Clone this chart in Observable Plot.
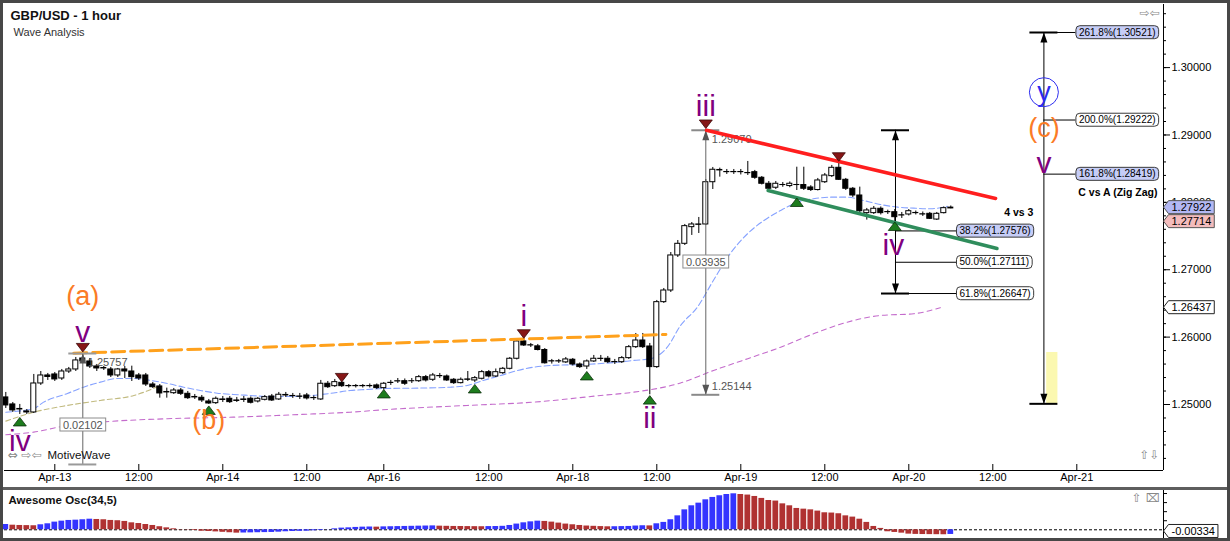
<!DOCTYPE html>
<html><head><meta charset="utf-8">
<script src="https://cdn.jsdelivr.net/npm/d3@7"></script>
<script src="https://cdn.jsdelivr.net/npm/@observablehq/plot@0.6"></script>
<style>
html,body{margin:0;padding:0;width:1230px;height:541px;overflow:hidden;background:#555;}
#wrap{position:relative;width:1230px;height:541px;background:#5e5e5e;}
#main{position:absolute;left:0;top:0;}
#osc{position:absolute;left:0;top:490px;}
.bd{position:absolute;background:#474747;z-index:5;}
svg{display:block;}
</style></head>
<body><div id="wrap"><div id="main"></div><div id="osc"></div>
<div class="bd" style="left:0;top:0;width:1230px;height:3px"></div>
<div class="bd" style="left:0;top:0;width:3px;height:541px"></div>
<div class="bd" style="left:1227px;top:0;width:3px;height:541px"></div>
<div class="bd" style="left:0;top:538px;width:1230px;height:3px"></div>
</div>
<script>
// ---------------- DATA ----------------
const barIndex = d3.range(-7, 129); // hourly bars, 0 = Apr-13 00:00

const openP = [
1.25105,1.25001,1.24926,1.24897,1.24882,1.25312,1.25431,1.25446,1.25386,1.25490,
1.25520,1.25683,1.25639,1.25564,1.25535,1.25520,1.25431,1.25520,1.25490,1.25431,
1.25431,1.25297,1.25268,1.25179,1.25168,1.25208,1.25159,1.25112,1.25100,1.25045,
1.25020,1.25075,1.25085,1.25060,1.25067,1.25085,1.25045,1.25070,1.25119,1.25075,
1.25142,1.25127,1.25119,1.25134,1.25097,1.25075,1.25308,1.25272,1.25322,1.25275,
1.25275,1.25275,1.25275,1.25283,1.25243,1.25319,1.25342,1.25346,1.25345,1.25346,
1.25406,1.25367,1.25423,1.25416,1.25367,1.25317,1.25372,1.25357,1.25382,1.25480,
1.25416,1.25465,1.25530,1.25679,1.25936,1.25879,1.25863,1.25809,1.25642,1.25642,
1.25625,1.25664,1.25594,1.25564,1.25639,1.25676,1.25679,1.25631,1.25628,1.25688,
1.25851,1.25950,1.25861,1.25555,1.26519,1.26692,1.27212,1.27385,1.27632,1.27672,
1.27672,1.28299,1.28481,1.28451,1.28451,1.28451,1.28436,1.28448,1.28365,1.28276,
1.28217,1.28258,1.28242,1.28258,1.28257,1.28221,1.28183,1.28299,1.28389,1.28513,
1.28335,1.28202,1.28102,1.27840,1.27840,1.27905,1.27857,1.27854,1.27808,1.27820,
1.27843,1.27823,1.27830,1.27745,1.27840,1.27910];
const highP = [
1.25179,1.25030,1.25001,1.24926,1.25446,1.25490,1.25461,1.25475,1.25520,1.25550,
1.25698,1.25757,1.25683,1.25594,1.25564,1.25550,1.25535,1.25564,1.25569,1.25461,
1.25461,1.25327,1.25297,1.25243,1.25238,1.25238,1.25194,1.25149,1.25134,1.25075,
1.25112,1.25119,1.25119,1.25105,1.25119,1.25112,1.25105,1.25134,1.25149,1.25179,
1.25179,1.25164,1.25164,1.25164,1.25127,1.25357,1.25342,1.25372,1.25357,1.25297,
1.25297,1.25297,1.25305,1.25305,1.25327,1.25357,1.25386,1.25379,1.25386,1.25431,
1.25431,1.25461,1.25461,1.25438,1.25386,1.25394,1.25490,1.25416,1.25505,1.25505,
1.25527,1.25550,1.25698,1.25950,1.25973,1.25906,1.25891,1.25831,1.25669,1.25669,
1.25698,1.25683,1.25616,1.25661,1.25728,1.25728,1.25713,1.25669,1.25713,1.25876,
1.26054,1.26054,1.25906,1.26544,1.26722,1.27256,1.27434,1.27672,1.27701,1.27776,
1.28339,1.28518,1.28508,1.28488,1.28488,1.28488,1.28607,1.28474,1.28384,1.28310,
1.28310,1.28295,1.28303,1.28522,1.28522,1.28247,1.28355,1.28429,1.28548,1.28587,
1.28355,1.28221,1.28226,1.27910,1.27939,1.27932,1.27884,1.27894,1.27850,1.27894,
1.27872,1.27857,1.27850,1.27850,1.27932,1.27946];
const lowP = [
1.24941,1.24882,1.24852,1.24852,1.24867,1.25283,1.25357,1.25342,1.25357,1.25461,
1.25490,1.25609,1.25535,1.25490,1.25505,1.25401,1.25401,1.25386,1.25342,1.25357,
1.25268,1.25238,1.25094,1.25094,1.25149,1.25134,1.25075,1.25075,1.25030,1.25001,
1.25001,1.25030,1.25015,1.25030,1.25030,1.25008,1.25023,1.25053,1.25045,1.25060,
1.25105,1.25090,1.25075,1.25067,1.25060,1.25060,1.25238,1.25253,1.25253,1.25245,
1.25245,1.25245,1.25245,1.25223,1.25216,1.25283,1.25312,1.25283,1.25312,1.25327,
1.25334,1.25342,1.25386,1.25342,1.25297,1.25305,1.25342,1.25327,1.25364,1.25394,
1.25401,1.25446,1.25513,1.25661,1.25861,1.25846,1.25795,1.25600,1.25600,1.25609,
1.25609,1.25572,1.25535,1.25520,1.25624,1.25639,1.25609,1.25594,1.25609,1.25669,
1.25831,1.25831,1.25144,1.25535,1.26500,1.26662,1.27182,1.27360,1.27509,1.27538,
1.27657,1.28191,1.28374,1.28414,1.28414,1.28407,1.28399,1.28342,1.28258,1.28176,
1.28191,1.28224,1.28217,1.28176,1.28176,1.28161,1.28169,1.28280,1.28369,1.28325,
1.28176,1.28073,1.27850,1.27737,1.27820,1.27813,1.27820,1.27714,1.27761,1.27798,
1.27813,1.27791,1.27746,1.27731,1.27828,1.27905];
const closeP = [
1.24986,1.24912,1.24934,1.24882,1.25312,1.25431,1.25409,1.25372,1.25490,1.25520,
1.25654,1.25639,1.25564,1.25535,1.25542,1.25431,1.25520,1.25490,1.25406,1.25386,
1.25297,1.25257,1.25164,1.25186,1.25208,1.25159,1.25094,1.25105,1.25060,1.25015,
1.25085,1.25067,1.25035,1.25053,1.25075,1.25026,1.25085,1.25109,1.25060,1.25145,
1.25134,1.25124,1.25115,1.25090,1.25094,1.25308,1.25257,1.25332,1.25272,1.25272,
1.25272,1.25272,1.25272,1.25243,1.25308,1.25322,1.25346,1.25308,1.25346,1.25406,
1.25357,1.25431,1.25420,1.25357,1.25317,1.25367,1.25367,1.25391,1.25480,1.25416,
1.25480,1.25530,1.25679,1.25936,1.25876,1.25876,1.25809,1.25612,1.25639,1.25639,
1.25669,1.25594,1.25555,1.25639,1.25679,1.25679,1.25628,1.25628,1.25688,1.25851,
1.25950,1.25851,1.25555,1.26519,1.26692,1.27212,1.27385,1.27647,1.27672,1.27667,
1.28299,1.28484,1.28474,1.28448,1.28448,1.28448,1.28433,1.28365,1.28276,1.28202,
1.28276,1.28257,1.28276,1.28257,1.28202,1.28183,1.28325,1.28399,1.28513,1.28335,
1.28202,1.28102,1.27869,1.27880,1.27905,1.27840,1.27854,1.27780,1.27805,1.27869,
1.27840,1.27820,1.27756,1.27830,1.27914,1.27922];

// Awesome oscillator (in pips)
const aoPips = [
38,33,31,30,29,36,43,55,62,67,
69,72,76,74,72,67,65,60,50,45,
38,31,22,14,7,2,-2,-5,-10,-12,
-15,-18,-21,-24,-23,-22,-21,-20,-19,-17,
-14,-12,-11,-10,-7,-5,-1,7,12,14,
17,19,20,19,21,22,23,24,25,26,
27,28,26,25,24,23.5,23,22.5,22,23,
23.5,25,31,41,50,57,62,60,55,48,
41,36,31,27,25,23,21.5,22,23,24,
27,29,28,43,53,72,100,143,172,191,
215,232,244,253,258,253,249,239,225,210,
206,186,172,153,148,143,134,122,120,115,
100,91,76,53,24,10,-14,-19,-24,-31,
-33,-34,-34.5,-35,-35.5,-33.4];
const aoLastLabel = "-0.00334";

// moving averages (sampled points: bar index, price)
const maFastIdx = [-7,-3,-1.6,1.8,4.1,6.5,9,11.2,13.7,16.1,18.4,20.8,23.2,25.5,28,30.4,32.7,35.1,37.5,39.8,42.2,44.6,47,51.8,56.5,58.9,61.2,63.7,66.1,68.4,70.8,75.5,80.4,82.7,85.1,87.5,89.4,91.8,94.1,96.5,99,101.3,103.7,106.1,108.4,110.8,113.2,115.5,117.9,120.4,122.7,125.1,127.5];
const maFastVal = [1.24886,1.24941,1.25035,1.25164,1.25257,1.25332,1.25387,1.25387,1.25357,1.25312,1.25257,1.25208,1.25168,1.25149,1.25134,1.25119,1.25119,1.25119,1.25142,1.25171,1.25208,1.25223,1.25238,1.25243,1.25257,1.25283,1.25357,1.25431,1.25505,1.25554,1.25579,1.25594,1.25628,1.25654,1.25679,1.25851,1.26173,1.26445,1.26844,1.27241,1.27538,1.27731,1.2788,1.28003,1.28053,1.28077,1.28077,1.28028,1.27969,1.27929,1.27914,1.27905,1.2794];
const maOliveIdx = [-7,-3,1.8,6.5,11.3,15.1];
const maOliveVal = [1.24753,1.24886,1.24986,1.2506,1.25134,1.25283];
const maSlowIdx = [-7,-3,1.8,6.5,16.1,25.5,35.1,42.2,47.5,58.9,68.4,78,82.7,89.4,94.1,99,103.7,108.4,113.2,117.9,122.7,126.5];
const maSlowVal = [1.24551,1.2459,1.24689,1.24738,1.24789,1.24812,1.24852,1.24886,1.24926,1.24986,1.25035,1.25134,1.25183,1.2532,1.25505,1.2568,1.25851,1.2605,1.26222,1.26321,1.26347,1.26437];

// trend lines
const orangeIdx = [2.7, 87.3], orangeVal = [1.25762, 1.26039];
const redIdx = [93.1, 134.4], redVal = [1.2907, 1.28058];
const greenIdx = [101.9, 134.6], greenVal = [1.28176, 1.27316];

// wave labels
const waveText  = ["iv","v","(a)","(b)","i","ii","iii","iv","v","(c)","y"];
const waveIdx   = [-5, 4, 4, 22, 67, 85, 93, 119.8, 141.3, 141.3, 141.3];
const wavePrice = [1.24452,1.26069,1.26603,1.24763,1.26307,1.24793,1.29423,1.27368,1.28577,1.29096,1.29635];
const waveDegree= ["minute","minute","minor","minor","minute","minute","minute","minute","minute","minor","inter"];

// swing markers
const lowMarkIdx = [-5, 22, 47, 60, 76, 85, 106, 120];
const lowMarkP   = [1.24741,1.24912,1.25157,1.25231,1.25424,1.25065,1.27998,1.27642];
const highMarkIdx = [4, 41, 67, 93, 112];
const highMarkP   = [1.25847,1.25402,1.2605,1.29163,1.28677];

// measurement tools
const measA = {i: 4, top: 1.25757, bottom: 1.2411, label: "0.02102", labelP: 1.24696, topText: "1.25757", topTextP: 1.25624};
const measB = {i: 93, top: 1.2907, bottom: 1.25144, label: "0.03935", labelP: 1.27115, topText: "1.29070", topTextP: 1.28933, botText: "1.25144", botTextP: 1.25268};

// fibonacci tools
const fibRetr = {i: 120.1, top: 1.2907, bottom: 1.26647, title: "4 vs 3", titleP: 1.27842};
const fibRetrLevels = [1.27576, 1.27111, 1.26647];
const fibRetrLabels = ["38.2%(1.27576)", "50.0%(1.27111)", "61.8%(1.26647)"];
const fibRetrHl = [true, false, false];
const fibExt = {i: 141.3, top: 1.30521, bottom: 1.2501, title: "C vs A (Zig Zag)", titleP: 1.28147};
const fibExtLevels = [1.30521, 1.29222, 1.28419];
const fibExtLabels = ["261.8%(1.30521)", "200.0%(1.29222)", "161.8%(1.28419)"];
const fibExtHl = [true, false, true];
const targetBox = {i1: 141.7, i2: 143.3, p1: 1.25015, p2: 1.25772};

// axes
const xTickIdx = [0,12,24,36,47,62,74,86,98,110,122,134,146];
const xTickLabels = ["Apr-13","12:00","Apr-14","12:00","Apr-16","12:00","Apr-18","12:00","Apr-19","12:00","Apr-20","12:00","Apr-21"];
const yTicks = [1.25,1.26,1.27,1.28,1.29,1.30];
const yMinor = d3.range(1.242, 1.3091, 0.002);
const priceTags = [{t:"1.27922", p:1.27922, cls:"tag-blue"}, {t:"1.27714", p:1.27714, cls:"tag-red"}, {t:"1.26437", p:1.26437, cls:"tag-white"}];
const aoTicks = [0.0065, 0.013, 0.0195, 0.026];

// ---------------- BUILD ----------------
const FONT = "'Liberation Sans', Arial, Helvetica, sans-serif";
const xDomain = [-7.186, 158.386];
const yDomain = [1.240205, 1.309365];
const ppx = (yDomain[1] - yDomain[0]) / 466; // price per pixel
const bpx = 1 / 7;                           // bars per pixel

const candles = barIndex.map((i, k) => ({i, o: openP[k], h: highP[k], l: lowP[k], c: closeP[k]}));
const zip = (a, b) => a.map((x, k) => ({i: x, p: b[k]}));
const waves = waveText.map((t, k) => ({t, i: waveIdx[k], p: wavePrice[k], d: waveDegree[k]}));
const waveColor = {minute: "#800080", minor: "#fb7b26", inter: "#2b2bf0"};
const waveSize = {minute: 30, minor: 27, inter: 27};

const triUp = {draw(c){c.moveTo(0,-4.5);c.lineTo(6.5,4);c.lineTo(-6.5,4);c.closePath();}};
const triDown = {draw(c){c.moveTo(0,4.5);c.lineTo(6.5,-4);c.lineTo(-6.5,-4);c.closePath();}};
const arrUp = {draw(c){c.moveTo(0,0);c.lineTo(3.5,10);c.lineTo(-3.5,10);c.closePath();}};
const arrDown = {draw(c){c.moveTo(0,0);c.lineTo(3.5,-10);c.lineTo(-3.5,-10);c.closePath();}};

const capHalf = 10 * bpx * 1.4;
const caps = [
  {p: measA.top, i: measA.i, c: "#9a9a9a"}, {p: measA.bottom, i: measA.i, c: "#9a9a9a"},
  {p: measB.top, i: measB.i, c: "#8a8a8a"}, {p: measB.bottom, i: measB.i, c: "#8a8a8a"},
  {p: fibRetr.top, i: fibRetr.i, c: "#000"}, {p: fibRetr.bottom, i: fibRetr.i, c: "#000"},
  {p: fibExt.top, i: fibExt.i, c: "#000"}, {p: fibExt.bottom, i: fibExt.i, c: "#000"}
];
const arrowsUp = [{i: measA.i, p: measA.top, c: "#555"}, {i: measB.i, p: measB.top, c: "#555"}, {i: fibRetr.i, p: fibRetr.top, c: "#000"}, {i: fibExt.i, p: fibExt.top, c: "#000"}];
const arrowsDown = [{i: measB.i, p: measB.bottom, c: "#555"}, {i: fibRetr.i, p: fibRetr.bottom, c: "#000"}, {i: fibExt.i, p: fibExt.bottom, c: "#000"}];

const retrRows = fibRetrLevels.map((p, k) => ({p, t: fibRetrLabels[k], hl: fibRetrHl[k]}));
const extRows = fibExtLevels.map((p, k) => ({p, t: fibExtLabels[k], hl: fibExtHl[k]}));
const retrLabelX = fibRetr.i + 61.5 * bpx * 1.0 + 0;  // box starts right of the tool
const retrTextX = fibRetr.i + 64 * bpx;
const extTextX = fibExt.i + 35 * bpx;
const tagX = xDomain[1] + 8 * bpx;

const main = Plot.plot({
  width: 1230, height: 487,
  marginLeft: 4, marginRight: 67, marginTop: 4, marginBottom: 17,
  style: {background: "#fff", fontFamily: FONT, fontSize: "11px", color: "#000"},
  x: {type: "linear", domain: xDomain},
  y: {type: "linear", domain: yDomain},
  marks: [
    // moving averages
    Plot.line(zip(maSlowIdx, maSlowVal), {x: "i", y: "p", stroke: "#c46ccc", strokeWidth: 1.1, strokeDasharray: "5,4", curve: "monotone-x"}),
    Plot.line(zip(maOliveIdx, maOliveVal), {x: "i", y: "p", stroke: "#c2bb80", strokeWidth: 1.1, strokeDasharray: "5,3", curve: "monotone-x"}),
    Plot.line(zip(maFastIdx, maFastVal), {x: "i", y: "p", stroke: "#86a2ff", strokeWidth: 1.1, strokeDasharray: "6,3", curve: "monotone-x"}),
    // target zone
    Plot.rect([targetBox], {x1: "i1", x2: "i2", y1: "p1", y2: "p2", fill: "#fbf8b0"}),
    // candles
    Plot.ruleX(candles, {x: "i", y1: "l", y2: "h", stroke: "#000", strokeWidth: 1}),
    Plot.rect(candles, {x1: d => d.i - 0.36, x2: d => d.i + 0.36, y1: "o", y2: "c", fill: d => d.c >= d.o ? "#fff" : "#000", stroke: "#000", strokeWidth: 1}),
    // orange dashed trend line
    Plot.line(zip(orangeIdx, orangeVal), {x: "i", y: "p", stroke: "#ffa11c", strokeWidth: 3, strokeDasharray: "13,6"}),
    // measurement tools
    Plot.ruleX([measA, measB], {x: "i", y1: "bottom", y2: "top", stroke: "#666", strokeWidth: 1}),
    // fib tool verticals
    Plot.ruleX([fibRetr, fibExt], {x: "i", y1: "bottom", y2: "top", stroke: "#000", strokeWidth: 1}),
    Plot.ruleY(retrRows, {y: "p", x1: fibRetr.i, x2: retrLabelX, stroke: "#000", strokeWidth: 1}),
    Plot.ruleY(extRows, {y: "p", x1: fibExt.i, x2: extTextX - 3 * bpx, stroke: "#000", strokeWidth: 1}),
    Plot.ruleY(caps, {y: "p", x1: d => d.i - capHalf, x2: d => d.i + capHalf, stroke: "c", strokeWidth: 2}),
    Plot.dot(arrowsUp, {x: "i", y: "p", symbol: arrUp, fill: "c", stroke: "none", r: 4}),
    Plot.dot(arrowsDown, {x: "i", y: "p", symbol: arrDown, fill: "c", stroke: "none", r: 4}),
    // measurement texts
    Plot.text([measA], {x: d => d.i + 5 * bpx, y: "topTextP", text: "topText", fill: "#555", fontSize: 11, textAnchor: "start"}),
    Plot.text([measB], {x: d => d.i + 6 * bpx, y: "topTextP", text: "topText", fill: "#555", fontSize: 11, textAnchor: "start"}),
    Plot.text([measB], {x: d => d.i + 6 * bpx, y: "botTextP", text: "botText", fill: "#555", fontSize: 11, textAnchor: "start"}),
    Plot.text([measA, measB], {x: "i", y: "labelP", text: "label", fill: "#555", fontSize: 11, className: "box-measure"}),
    // trend lines
    Plot.line(zip(redIdx, redVal), {x: "i", y: "p", stroke: "#ff1e1e", strokeWidth: 3.5}),
    Plot.line(zip(greenIdx, greenVal), {x: "i", y: "p", stroke: "#2f8d5c", strokeWidth: 3.5}),
    // swing markers
    Plot.dot(zip(lowMarkIdx, lowMarkP), {x: "i", y: "p", symbol: triUp, fill: "#1d7c1d", stroke: "#0b300b", strokeWidth: 0.8, r: 4}),
    Plot.dot(zip(highMarkIdx, highMarkP), {x: "i", y: "p", symbol: triDown, fill: "#861616", stroke: "#3a0808", strokeWidth: 0.8, r: 4}),
    // wave labels
    Plot.dot(waves.filter(d => d.d === "inter"), {x: "i", y: "p", r: 14.5, stroke: "#3030f0", fill: "none", strokeWidth: 1}),
    Plot.text(waves, {x: "i", y: "p", text: "t", fill: d => waveColor[d.d], fontSize: d => waveSize[d.d], lineAnchor: "middle"}),
    // fib labels
    Plot.text(retrRows.filter(d => d.hl), {x: retrTextX, y: "p", text: "t", fontSize: 10, textAnchor: "start", className: "box-fib-hl"}),
    Plot.text(retrRows.filter(d => !d.hl), {x: retrTextX, y: "p", text: "t", fontSize: 10, textAnchor: "start", className: "box-fib"}),
    Plot.text(extRows.filter(d => d.hl), {x: extTextX, y: "p", text: "t", fontSize: 10, textAnchor: "start", className: "box-fib-hl"}),
    Plot.text(extRows.filter(d => !d.hl), {x: extTextX, y: "p", text: "t", fontSize: 10, textAnchor: "start", className: "box-fib"}),
    Plot.text([fibRetr], {x: d => d.i + 19.7, y: "titleP", text: "title", fontSize: 10.5, fontWeight: "bold", textAnchor: "end"}),
    Plot.text([fibExt], {x: xDomain[1] - 6 * bpx, y: "titleP", text: "title", fontSize: 10.5, fontWeight: "bold", textAnchor: "end"}),
    // axes
    Plot.ruleY([yDomain[0]], {stroke: "#000", strokeWidth: 1}),
    Plot.ruleX([xDomain[1]], {stroke: "#000", strokeWidth: 1}),
    Plot.ruleX(xTickIdx, {x: d => d, y1: yDomain[0], y2: yDomain[0] + 6 * ppx, stroke: "#000"}),
    Plot.axisX({ticks: xTickIdx, tickFormat: d => xTickLabels[xTickIdx.indexOf(d)], tickSize: 0, tickPadding: 3, fontSize: 11, label: null, anchor: "bottom"}),
    Plot.ruleY(yMinor, {y: d => d, x1: xDomain[1], x2: xDomain[1] + 3 * bpx, stroke: "#000"}),
    Plot.axisY({ticks: yTicks, tickFormat: d => d.toFixed(5), tickSize: 6, tickPadding: 2, fontSize: 11, label: null, anchor: "right"}),
    Plot.text(priceTags.filter(d => d.cls === "tag-blue"), {x: tagX, y: "p", text: "t", fontSize: 11, textAnchor: "start", className: "tag-blue"}),
    Plot.text(priceTags.filter(d => d.cls === "tag-red"), {x: tagX, y: "p", text: "t", fontSize: 11, textAnchor: "start", className: "tag-red"}),
    Plot.text(priceTags.filter(d => d.cls === "tag-white"), {x: tagX, y: "p", text: "t", fontSize: 11, textAnchor: "start", className: "tag-white"}),
    // titles & chrome
    Plot.text(["GBP/USD - 1 hour"], {text: d => d, frameAnchor: "top-left", dx: 6, dy: 6, lineAnchor: "top", fontSize: 13, fontWeight: "bold", fill: "#111"}),
    Plot.text(["Wave Analysis"], {text: d => d, frameAnchor: "top-left", dx: 9, dy: 24, lineAnchor: "top", fontSize: 11, fill: "#333"}),
    Plot.text(["⇨⇦"], {text: d => d, frameAnchor: "top-right", dx: -4, dy: 9, textAnchor: "end", lineAnchor: "middle", fontSize: 12, fill: "#888", fontFamily: "DejaVu Sans"}),
    Plot.text(["⇔ ⇨⇦"], {text: d => d, frameAnchor: "bottom-left", dx: 3, dy: -15, textAnchor: "start", lineAnchor: "middle", fontSize: 12, fill: "#888", fontFamily: "DejaVu Sans"}),
    Plot.text(["MotiveWave"], {text: d => d, frameAnchor: "bottom-left", dx: 43, dy: -15, textAnchor: "start", lineAnchor: "middle", fontSize: 11.5, fill: "#111"}),
    Plot.text(["⇧⇩"], {text: d => d, frameAnchor: "bottom-right", dx: -4, dy: -15, textAnchor: "end", lineAnchor: "middle", fontSize: 12, fill: "#888", fontFamily: "DejaVu Sans"})
  ]
});
document.getElementById("main").appendChild(main);

// oscillator
const aoData = barIndex.map((i, k) => ({i, v: aoPips[k] / 10000, col: (k === 0 || aoPips[k] > aoPips[k - 1]) ? "#3434ff" : "#b03232"}));
const aoLast = aoData[aoData.length - 1];
const osc = Plot.plot({
  width: 1230, height: 48,
  marginLeft: 4, marginRight: 67, marginTop: 0, marginBottom: 0,
  style: {background: "#fff", fontFamily: FONT, fontSize: "11px", color: "#000"},
  x: {type: "linear", domain: xDomain, axis: null},
  y: {type: "linear", domain: [-0.00624, 0.02817], axis: null},
  marks: [
    Plot.ruleY([0], {stroke: "#000", strokeDasharray: "3,2", strokeWidth: 1}),
    Plot.rect(aoData, {x1: d => d.i - 0.41, x2: d => d.i + 0.41, y1: 0, y2: "v", fill: "col"}),
    Plot.ruleX([xDomain[1]], {stroke: "#000"}),
    Plot.ruleY(aoTicks, {y: d => d, x1: xDomain[1], x2: xDomain[1] + 4 * bpx, stroke: "#000"}),
    Plot.text(["Awesome Osc(34,5)"], {text: d => d, frameAnchor: "top-left", dx: 4, dy: 10, lineAnchor: "middle", fontSize: 11.5, fontWeight: "bold", fill: "#111"}),
    Plot.text(["⇧ ⌧"], {text: d => d, frameAnchor: "top-right", dx: -4, dy: 8, textAnchor: "end", lineAnchor: "middle", fontSize: 12, fill: "#888", fontFamily: "DejaVu Sans"}),
    Plot.text([aoLast], {x: tagX, y: "v", dy: -3, text: () => aoLastLabel, fontSize: 11, textAnchor: "start", className: "tag-white"})
  ]
});
document.getElementById("osc").appendChild(osc);

// boxes behind labels
function decorate(svg) {
  const NS = "http://www.w3.org/2000/svg";
  const specs = [
    ["box-measure", {fill: "#ffffff", stroke: "#8c8c8c", rx: 0, px: 3, py: 0.5, tag: false}],
    ["box-fib", {fill: "#ffffff", stroke: "#3a3a3a", rx: 4, px: 3, py: 1, tag: false}],
    ["box-fib-hl", {fill: "#c6cdf7", stroke: "#3a3a3a", rx: 4, px: 3, py: 1, tag: false}],
    ["tag-blue", {fill: "#b3b8f3", stroke: "#555", tag: true, px: 3, py: 0.5}],
    ["tag-red", {fill: "#f4bcbc", stroke: "#555", tag: true, px: 3, py: 0.5}],
    ["tag-white", {fill: "#ffffff", stroke: "#222", tag: true, px: 3, py: 0.5}]
  ];
  for (const [cls, s] of specs) {
    svg.querySelectorAll("g." + cls + " text").forEach(t => {
      const b = t.getBBox();
      const x0 = b.x - s.px, x1 = b.x + b.width + s.px, y0 = b.y - s.py, y1 = b.y + b.height + s.py;
      let el;
      if (s.tag) {
        el = document.createElementNS(NS, "path");
        const cy = (y0 + y1) / 2;
        el.setAttribute("d", `M${x0 - 5},${cy}L${x0},${y0}L${x1},${y0}L${x1},${y1}L${x0},${y1}Z`);
      } else {
        el = document.createElementNS(NS, "rect");
        el.setAttribute("x", x0); el.setAttribute("y", y0);
        el.setAttribute("width", x1 - x0); el.setAttribute("height", y1 - y0);
        el.setAttribute("rx", s.rx);
      }
      el.setAttribute("fill", s.fill);
      el.setAttribute("stroke", s.stroke);
      el.setAttribute("stroke-width", 1);
      const tr = t.getAttribute("transform");
      if (tr) el.setAttribute("transform", tr);
      t.parentNode.insertBefore(el, t);
    });
  }
}
decorate(main);
decorate(osc);
</script>
</body></html>
